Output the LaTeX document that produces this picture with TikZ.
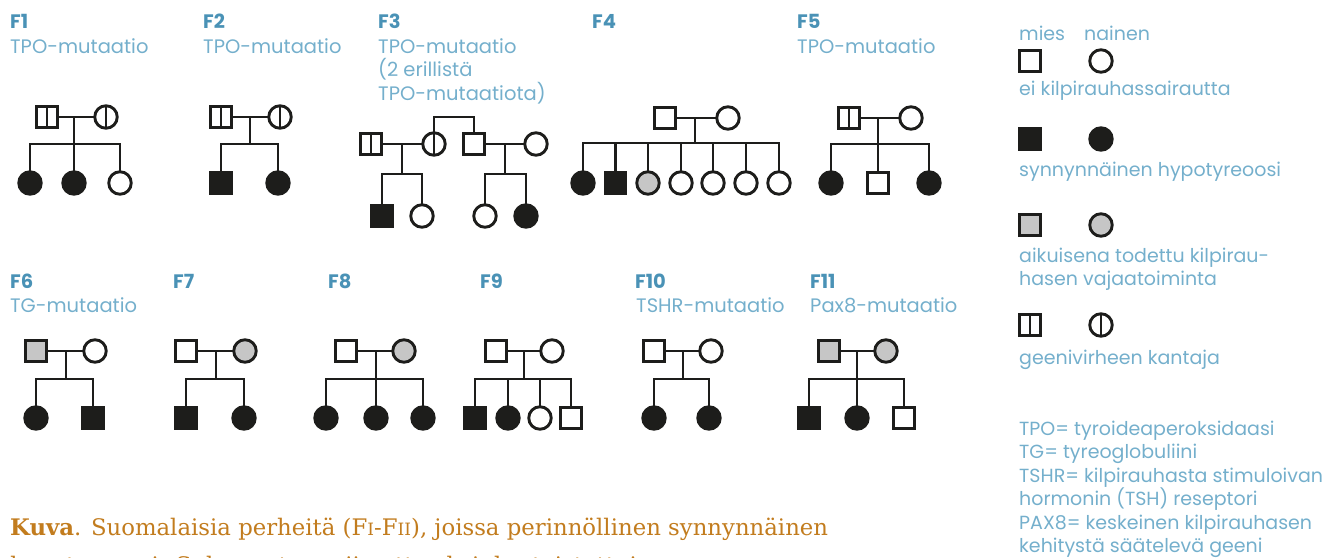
\documentclass[tikz,border=0pt]{standalone}
\usepackage{fontspec}
\setmainfont{Poppins}
\newfontfamily\capfont{DejaVu Serif}
\definecolor{ink}{HTML}{1D1D1B}
\definecolor{gry}{HTML}{C6C6C6}
\definecolor{ttl}{HTML}{4A92B6}
\definecolor{sub}{HTML}{74AFCC}
\definecolor{capc}{HTML}{C27C1E}
\tikzset{
 sym/.style={draw=ink, line width=2.9pt, inner sep=0pt, outer sep=0pt, fill=white},
 male/.style={sym, rectangle, minimum size=20.5pt},
 fem/.style={sym, circle, minimum size=22.5pt},
 aff/.style={fill=ink},
 adult/.style={fill=gry},
 carrier/.style={path picture={\draw[ink, line width=2.9pt] (path picture bounding box.north) -- (path picture bounding box.south);}},
 link/.style={draw=ink, line width=2.9pt},
 famlbl/.style={font=\bfseries\fontsize{19.5}{19.5}\selectfont, text=ttl, anchor=base west, inner sep=0pt},
 sublbl/.style={font=\fontsize{19.5}{22}\selectfont, text=sub, anchor=base west, inner sep=0pt},
 leg/.style={font=\fontsize{19}{22}\selectfont, text=sub, anchor=base west, inner sep=0pt},
}
\begin{document}
\begin{tikzpicture}[x=1pt,y=-1pt]
\useasboundingbox (0,0) rectangle (1333,557);
% ---------- row 1 labels
\node[famlbl] (l1) at (10,28) {F1};
\node[sublbl] (s1) at (10,53) {TPO-mutaatio};
\node[famlbl] (l2) at (203,28) {F2};
\node[sublbl] (s2) at (203,53) {TPO-mutaatio};
\node[famlbl] (l3) at (378,28) {F3};
\node[sublbl] (s3a) at (378,53) {TPO-mutaatio};
\node[sublbl] (s3b) at (378,76.5) {(2 erillistä};
\node[sublbl] (s3c) at (378,100) {TPO-mutaatiota)};
\node[famlbl] (l4) at (592,28) {F4};
\node[famlbl] (l5) at (797,28) {F5};
\node[sublbl] (s5) at (797,53) {TPO-mutaatio};
% ---------- F1
\node[male,carrier] (f1f) at (47,117) {};
\node[fem,carrier] (f1m) at (106,117) {};
\coordinate (f1d) at (74,117);
\coordinate (f1s) at (74,144);
\node[fem,aff] (f1c1) at (30,183) {};
\node[fem,aff] (f1c2) at (74,183) {};
\node[fem] (f1c3) at (120,183) {};
\draw[link] (f1f) -- (f1m);
\draw[link] (f1d) -- (f1s);
\draw[link] (f1c1) |- (f1s) -| (f1c3);
\draw[link] (f1s) -- (f1c2);
% ---------- F2
\node[male,carrier] (f2f) at (221,117) {};
\node[fem,carrier] (f2m) at (280,117) {};
\coordinate (f2d) at (250,117);
\coordinate (f2s) at (250,144);
\node[male,aff] (f2c1) at (221,183) {};
\node[fem,aff] (f2c2) at (278,183) {};
\draw[link] (f2f) -- (f2m);
\draw[link] (f2d) -- (f2s);
\draw[link] (f2c1) |- (f2s) -| (f2c2);
% ---------- F3
\node[male,carrier] (f3f) at (371,144) {};
\node[fem,carrier] (f3m) at (434,144) {};
\node[male] (f3h) at (474,144) {};
\node[fem] (f3w) at (536,144) {};
\coordinate (f3t) at (454,117);
\coordinate (f3d1) at (402,144);
\coordinate (f3s1) at (402,174);
\coordinate (f3d2) at (505,144);
\coordinate (f3s2) at (505,174);
\node[male,aff] (f3c1) at (382,216) {};
\node[fem] (f3c2) at (422,216) {};
\node[fem] (f3c3) at (485,216) {};
\node[fem,aff] (f3c4) at (526,216) {};
\draw[link] (f3m) |- (f3t) -| (f3h);
\draw[link] (f3f) -- (f3m);
\draw[link] (f3h) -- (f3w);
\draw[link] (f3d1) -- (f3s1);
\draw[link] (f3d2) -- (f3s2);
\draw[link] (f3c1) |- (f3s1) -| (f3c2);
\draw[link] (f3c3) |- (f3s2) -| (f3c4);
% ---------- F4
\node[male] (f4f) at (665,118) {};
\node[fem] (f4m) at (728,118) {};
\coordinate (f4d) at (695,118);
\coordinate (f4s) at (695,143);
\node[fem,aff] (f4c1) at (583,183) {};
\node[male,aff] (f4c2) at (615.5,183) {};
\node[fem,adult] (f4c3) at (648,183) {};
\node[fem] (f4c4) at (681,183) {};
\node[fem] (f4c5) at (713,183) {};
\node[fem] (f4c6) at (746,183) {};
\node[fem] (f4c7) at (779,183) {};
\draw[link] (f4f) -- (f4m);
\draw[link] (f4d) -- (f4s);
\draw[link] (f4c1) |- (f4s) -| (f4c7);
\foreach \k in {2,...,6} {\draw[link] (f4c\k.north |- f4s) -- (f4c\k);}
% ---------- F5
\node[male,carrier] (f5f) at (849,118) {};
\node[fem] (f5m) at (911,118) {};
\coordinate (f5d) at (878,118);
\coordinate (f5s) at (878,144);
\node[fem,aff] (f5c1) at (831,183) {};
\node[male] (f5c2) at (878,183) {};
\node[fem,aff] (f5c3) at (929,183) {};
\draw[link] (f5f) -- (f5m);
\draw[link] (f5d) -- (f5s);
\draw[link] (f5c1) |- (f5s) -| (f5c3);
\draw[link] (f5s) -- (f5c2);
% ---------- row 2 labels
\node[famlbl] (l6) at (10,288) {F6};
\node[sublbl] (s6) at (10,312) {TG-mutaatio};
\node[famlbl] (l7) at (173,288) {F7};
\node[famlbl] (l8) at (328,288) {F8};
\node[famlbl] (l9) at (480,288) {F9};
\node[famlbl] (l10) at (635,288) {F10};
\node[sublbl] (s10) at (636,312) {TSHR-mutaatio};
\node[famlbl] (l11) at (810,288) {F11};
\node[sublbl] (s11) at (810,312) {Pax8-mutaatio};
% ---------- F6
\node[male,adult] (f6f) at (36,351) {};
\node[fem] (f6m) at (95,351) {};
\coordinate (f6d) at (66,351);
\coordinate (f6s) at (66,379);
\node[fem,aff] (f6c1) at (36,418) {};
\node[male,aff] (f6c2) at (93,418) {};
\draw[link] (f6f) -- (f6m);
\draw[link] (f6d) -- (f6s);
\draw[link] (f6c1) |- (f6s) -| (f6c2);
% ---------- F7
\node[male] (f7f) at (186,351) {};
\node[fem,adult] (f7m) at (245,351) {};
\coordinate (f7d) at (216,351);
\coordinate (f7s) at (216,379);
\node[male,aff] (f7c1) at (186,418) {};
\node[fem,aff] (f7c2) at (244,418) {};
\draw[link] (f7f) -- (f7m);
\draw[link] (f7d) -- (f7s);
\draw[link] (f7c1) |- (f7s) -| (f7c2);
% ---------- F8
\node[male] (f8f) at (346,351) {};
\node[fem,adult] (f8m) at (404,351) {};
\coordinate (f8d) at (376,351);
\coordinate (f8s) at (376,379);
\node[fem,aff] (f8c1) at (326,418) {};
\node[fem,aff] (f8c2) at (376,418) {};
\node[fem,aff] (f8c3) at (423,418) {};
\draw[link] (f8f) -- (f8m);
\draw[link] (f8d) -- (f8s);
\draw[link] (f8c1) |- (f8s) -| (f8c3);
\draw[link] (f8s) -- (f8c2);
% ---------- F9
\node[male] (f9f) at (496,351) {};
\node[fem] (f9m) at (552,351) {};
\coordinate (f9d) at (524,351);
\coordinate (f9s) at (524,379);
\node[male,aff] (f9c1) at (475,418) {};
\node[fem,aff] (f9c2) at (508,418) {};
\node[fem] (f9c3) at (540,418) {};
\node[male] (f9c4) at (571,418) {};
\draw[link] (f9f) -- (f9m);
\draw[link] (f9d) -- (f9s);
\draw[link] (f9c1) |- (f9s) -| (f9c4);
\draw[link] (f9c2.north |- f9s) -- (f9c2);
\draw[link] (f9c3.north |- f9s) -- (f9c3);
% ---------- F10
\node[male] (f10f) at (654,351) {};
\node[fem] (f10m) at (711,351) {};
\coordinate (f10d) at (683,351);
\coordinate (f10s) at (683,379);
\node[fem,aff] (f10c1) at (654,418) {};
\node[fem,aff] (f10c2) at (709,418) {};
\draw[link] (f10f) -- (f10m);
\draw[link] (f10d) -- (f10s);
\draw[link] (f10c1) |- (f10s) -| (f10c2);
% ---------- F11
\node[male,adult] (f11f) at (829,351) {};
\node[fem,adult] (f11m) at (886,351) {};
\coordinate (f11d) at (857,351);
\coordinate (f11s) at (857,379);
\node[male,aff] (f11c1) at (809,418) {};
\node[fem,aff] (f11c2) at (857,418) {};
\node[male] (f11c3) at (904,418) {};
\draw[link] (f11f) -- (f11m);
\draw[link] (f11d) -- (f11s);
\draw[link] (f11c1) |- (f11s) -| (f11c3);
\draw[link] (f11s) -- (f11c2);
% ---------- legend
\node[leg] (lm) at (1019,40) {mies};
\node[leg] (ln) at (1084,40) {nainen};
\node[male] (g1a) at (1030,61) {};
\node[fem] (g1b) at (1101,61) {};
\node[leg] (g1t) at (1019,95) {ei kilpirauhassairautta};
\node[male,aff] (g2a) at (1030,139) {};
\node[fem,aff] (g2b) at (1101,139) {};
\node[leg] (g2t) at (1019,176) {synnynnäinen hypotyreoosi};
\node[male,adult] (g3a) at (1030,225) {};
\node[fem,adult] (g3b) at (1101,225) {};
\node[leg] (g3t) at (1019,262) {aikuisena todettu kilpirau-};
\node[leg] (g3u) at (1019,285) {hasen vajaatoiminta};
\node[male,carrier] (g4a) at (1030,325) {};
\node[fem,carrier] (g4b) at (1101,325) {};
\node[leg] (g4t) at (1019,364) {geenivirheen kantaja};
\node[leg] (d1) at (1019,435) {TPO= tyroideaperoksidaasi};
\node[leg] (d2) at (1019,458.5) {TG= tyreoglobuliini};
\node[leg] (d3) at (1019,482) {TSHR= kilpirauhasta stimuloivan};
\node[leg] (d4) at (1019,505.5) {hormonin (TSH) reseptori};
\node[leg] (d5) at (1019,529) {PAX8= keskeinen kilpirauhasen};
\node[leg] (d6) at (1019,552.5) {kehitystä säätelevä geeni};
% ---------- caption
\begin{scope}
\clip (0,0) rectangle (1333,557);
\node[anchor=base west, inner sep=0pt, text=capc, font=\capfont\fontsize{22.8}{22.8}\selectfont] (cap1) at (10,535) {\textbf{Kuva}. Suomalaisia perheitä (F{\fontsize{17}{17}\selectfont I}-F{\fontsize{17}{17}\selectfont II}), joissa perinnöllinen synnynnäinen};
\node[anchor=base west, inner sep=0pt, text=capc, font=\capfont\fontsize{22.8}{22.8}\selectfont] (cap2) at (10,573) {hypotyreoosi. Sukupuut on piirretty yksinkertaistettuina.};
\end{scope}
\end{tikzpicture}
\end{document}
